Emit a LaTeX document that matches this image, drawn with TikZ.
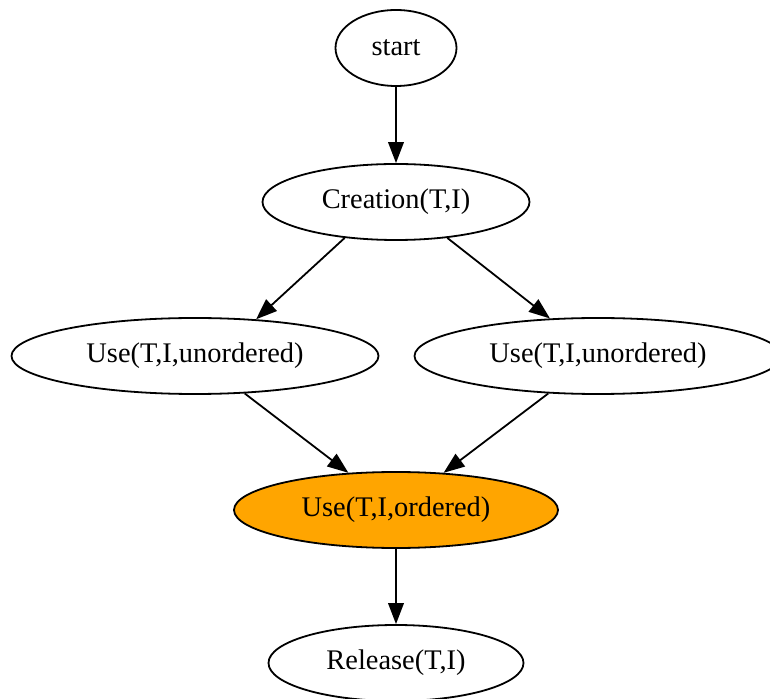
\documentclass[tikz,border=0pt]{standalone}
\usepackage{fontspec}
\setmainfont{Liberation Serif}
\usetikzlibrary{arrows.meta}
\usetikzlibrary{shapes}
\tikzset{>={Triangle[length=10.5pt, width=7.8pt]}}
\tikzstyle{state} = [ellipse, draw=black, line width=0.9pt, inner sep=0pt, minimum height=38pt, font=\fontsize{14.2}{17}\selectfont]

\begin{document}
\begin{tikzpicture}[x=0.5pt, y=-0.5pt]
\useasboundingbox (0, 0) rectangle (770, 699);
\node [state, minimum width=60.5pt] (start) at (396, 48) {start};
\node [state, minimum width=133.5pt] (cre) at (396, 202) {Creation(T,I)};
\node [state, minimum width=183.5pt] (usel) at (195, 356) {Use(T,I,unordered)};
\node [state, minimum width=183.5pt] (user) at (598, 356) {Use(T,I,unordered)};
\node [state, minimum width=162pt, fill={rgb,255:red,255;green,165;blue,0}] (ord) at (396, 510) {Use(T,I,ordered)};
\node [state, minimum width=127.5pt] (rel) at (396, 663) {Release(T,I)};
\draw [->, line width=0.9pt] (start) to (cre);
\draw [->, line width=0.9pt] (cre.215) to (usel.31);
\draw [->, line width=0.9pt] (cre.325) to (user.142);
\draw [->, line width=0.9pt] (usel.323) to (ord.142);
\draw [->, line width=0.9pt] (user.217) to (ord.38);
\draw [->, line width=0.9pt] (ord) to (rel);
\end{tikzpicture}
\end{document}
